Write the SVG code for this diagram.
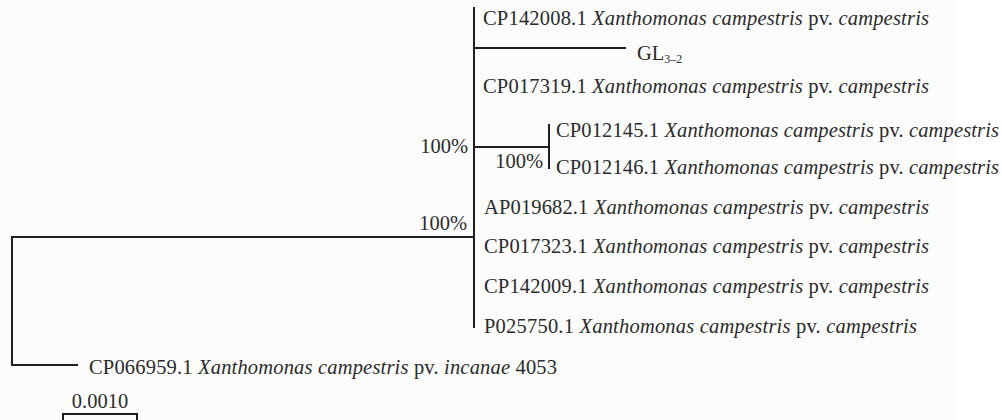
<svg xmlns="http://www.w3.org/2000/svg" width="1002" height="420" viewBox="0 0 1002 420">
<style>
.t{font-family:"Liberation Serif","Times New Roman",serif;font-size:20.5px;fill:#2b2b2b}
.i{font-style:italic}
.ln{stroke:#1e1e1e;stroke-width:2;fill:none;stroke-linecap:square}
.sub{font-size:12px}
</style>
<rect x="0" y="0" width="1002" height="420" fill="#ffffff"/>
<rect x="0" y="0" width="955" height="420" fill="#fcfcfc"/>
<g id="connectors">
<path class="ln" d="M474,8 V327"/>
<path class="ln" d="M474,48 H625"/>
<path class="ln" d="M474,147 H549 M549,125 V168"/>
<path class="ln" d="M474,237 H12 V365 H77"/>
<path class="ln" d="M63,414 H137 M63,414 V422 M137,414 V422"/>
</g>
<g id="n-cp142008"><text class="t" x="483" y="25" textLength="446" lengthAdjust="spacing">CP142008.1 <tspan class="i">Xanthomonas campestris</tspan> pv. <tspan class="i">campestris</tspan></text></g>
<g id="n-gl32"><text class="t" x="637" y="60">GL<tspan class="sub" dy="3">3–2</tspan></text></g>
<g id="n-cp017319"><text class="t" x="483" y="93" textLength="446" lengthAdjust="spacing">CP017319.1 <tspan class="i">Xanthomonas campestris</tspan> pv. <tspan class="i">campestris</tspan></text></g>
<g id="n-cp012145"><text class="t" x="556" y="137" textLength="443" lengthAdjust="spacing">CP012145.1 <tspan class="i">Xanthomonas campestris</tspan> pv. <tspan class="i">campestris</tspan></text></g>
<g id="n-cp012146"><text class="t" x="556" y="174" textLength="443" lengthAdjust="spacing">CP012146.1 <tspan class="i">Xanthomonas campestris</tspan> pv. <tspan class="i">campestris</tspan></text></g>
<g id="n-ap019682"><text class="t" x="484" y="214" textLength="445" lengthAdjust="spacing">AP019682.1 <tspan class="i">Xanthomonas campestris</tspan> pv. <tspan class="i">campestris</tspan></text></g>
<g id="n-cp017323"><text class="t" x="484" y="253" textLength="445" lengthAdjust="spacing">CP017323.1 <tspan class="i">Xanthomonas campestris</tspan> pv. <tspan class="i">campestris</tspan></text></g>
<g id="n-cp142009"><text class="t" x="484" y="293" textLength="445" lengthAdjust="spacing">CP142009.1 <tspan class="i">Xanthomonas campestris</tspan> pv. <tspan class="i">campestris</tspan></text></g>
<g id="n-p025750"><text class="t" x="484" y="333" textLength="433" lengthAdjust="spacing">P025750.1 <tspan class="i">Xanthomonas campestris</tspan> pv. <tspan class="i">campestris</tspan></text></g>
<g id="n-cp066959"><text class="t" x="89" y="374" textLength="468" lengthAdjust="spacing">CP066959.1 <tspan class="i">Xanthomonas campestris</tspan> pv. <tspan class="i">incanae</tspan> 4053</text></g>
<g id="bootstrap">
<text class="t" x="468" y="153" text-anchor="end">100%</text>
<text class="t" x="543" y="168" text-anchor="end">100%</text>
<text class="t" x="467" y="230" text-anchor="end">100%</text>
</g>
<g id="scale"><text class="t" x="100" y="408" text-anchor="middle">0.0010</text></g>
</svg>
